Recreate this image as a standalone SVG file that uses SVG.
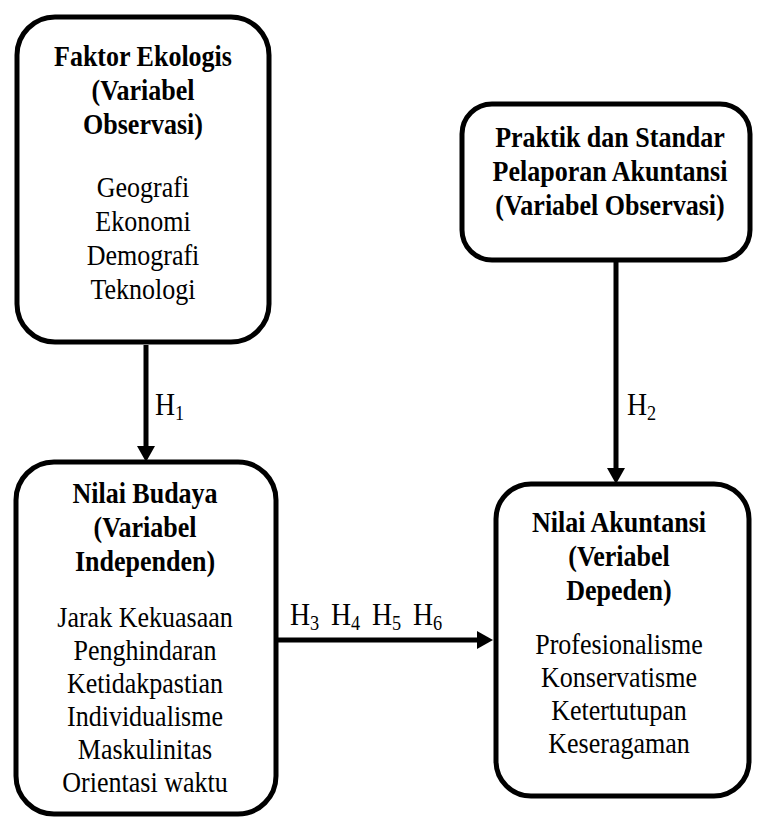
<svg xmlns="http://www.w3.org/2000/svg" width="758" height="818" viewBox="0 0 758 818">
<defs>
<style>
.box{fill:#fff;stroke:#000;stroke-width:5}
.t{font-family:"Liberation Serif","Times New Roman",serif;font-size:30px;fill:#000;text-anchor:middle}
.b{font-weight:bold}
.lab{font-family:"Liberation Serif","Times New Roman",serif;font-size:32px;fill:#000}
.sub{font-size:21px}
.conn{stroke:#000;stroke-width:5;fill:none;marker-end:url(#ah)}
</style>
<marker id="ah" markerUnits="userSpaceOnUse" markerWidth="16" markerHeight="18" refX="6" refY="9" orient="auto">
<path d="M0,0 L16,9 L0,18 z" fill="#000"/>
</marker>
</defs>
<rect width="758" height="818" fill="#fff"/>
<g id="connectors">
<line class="conn" x1="146" y1="345" x2="146" y2="452"/>
<line class="conn" x1="616" y1="260" x2="616" y2="474"/>
<line class="conn" x1="270" y1="640" x2="483" y2="640"/>
<g transform="translate(155 0) scale(0.87 1)"><text class="lab" x="0" y="415">H<tspan class="sub" dy="5">1</tspan></text></g>
<g transform="translate(627 0) scale(0.87 1)"><text class="lab" x="0" y="415">H<tspan class="sub" dy="5">2</tspan></text></g>
<g transform="translate(290 0) scale(0.87 1)"><text class="lab" x="0" y="625">H<tspan class="sub" dy="5">3</tspan></text></g>
<g transform="translate(331 0) scale(0.87 1)"><text class="lab" x="0" y="625">H<tspan class="sub" dy="5">4</tspan></text></g>
<g transform="translate(372 0) scale(0.87 1)"><text class="lab" x="0" y="625">H<tspan class="sub" dy="5">5</tspan></text></g>
<g transform="translate(413 0) scale(0.87 1)"><text class="lab" x="0" y="625">H<tspan class="sub" dy="5">6</tspan></text></g>
</g>
<g id="faktor-ekologis">
<rect class="box" x="17" y="17" width="252" height="325" rx="38"/>
<g transform="translate(143 0) scale(0.867 1)">
<text class="t b" x="0" y="66">Faktor Ekologis</text>
<text class="t b" x="0" y="100">(Variabel</text>
<text class="t b" x="0" y="134">Observasi)</text>
<text class="t" x="0" y="197">Geografi</text>
<text class="t" x="0" y="231">Ekonomi</text>
<text class="t" x="0" y="265">Demografi</text>
<text class="t" x="0" y="299">Teknologi</text>
</g>
</g>
<g id="praktik-standar">
<rect class="box" x="462" y="104" width="288" height="156" rx="30"/>
<g transform="translate(610 0) scale(0.867 1)">
<text class="t b" x="0" y="147">Praktik dan Standar</text>
<text class="t b" x="0" y="181">Pelaporan Akuntansi</text>
<text class="t b" x="0" y="215">(Variabel Observasi)</text>
</g>
</g>
<g id="nilai-budaya">
<rect class="box" x="16" y="462" width="260" height="352" rx="38"/>
<g transform="translate(145 0) scale(0.867 1)">
<text class="t b" x="0" y="503">Nilai Budaya</text>
<text class="t b" x="0" y="537">(Variabel</text>
<text class="t b" x="0" y="571">Independen)</text>
<text class="t" x="0" y="627">Jarak Kekuasaan</text>
<text class="t" x="0" y="660">Penghindaran</text>
<text class="t" x="0" y="693">Ketidakpastian</text>
<text class="t" x="0" y="726">Individualisme</text>
<text class="t" x="0" y="759">Maskulinitas</text>
<text class="t" x="0" y="792">Orientasi waktu</text>
</g>
</g>
<g id="nilai-akuntansi">
<rect class="box" x="496" y="484" width="253" height="312" rx="35"/>
<g transform="translate(619 0) scale(0.867 1)">
<text class="t b" x="0" y="532">Nilai Akuntansi</text>
<text class="t b" x="0" y="566">(Veriabel</text>
<text class="t b" x="0" y="600">Depeden)</text>
<text class="t" x="0" y="654">Profesionalisme</text>
<text class="t" x="0" y="687">Konservatisme</text>
<text class="t" x="0" y="720">Ketertutupan</text>
<text class="t" x="0" y="753">Keseragaman</text>
</g>
</g>
</svg>
